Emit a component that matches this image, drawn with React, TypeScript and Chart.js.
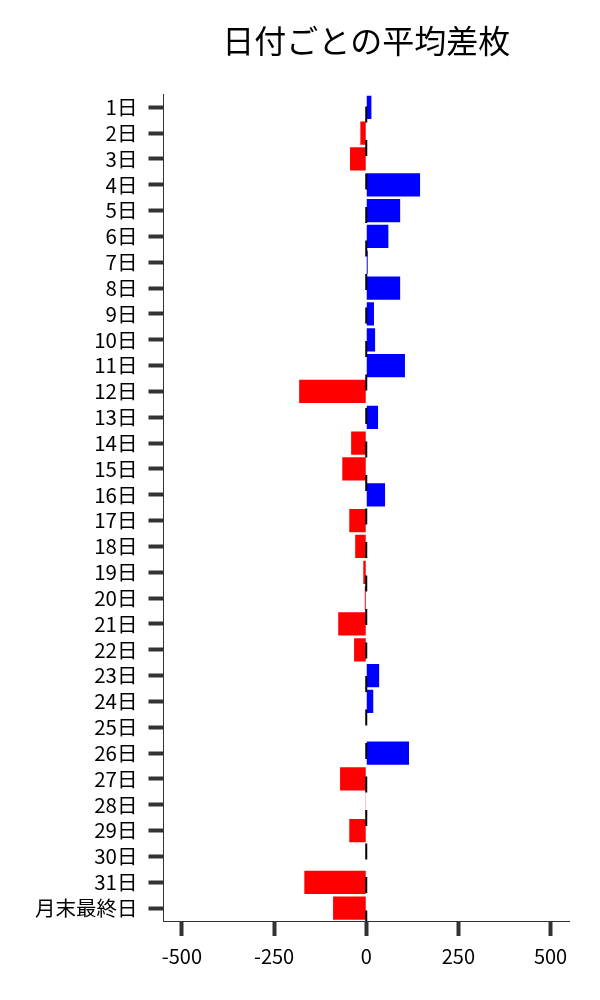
import React, { useEffect, useRef } from "react";
import { Chart, registerables } from "chart.js";

Chart.register(...registerables);

const categories = [
  "1日", "2日", "3日", "4日", "5日", "6日", "7日", "8日", "9日", "10日",
  "11日", "12日", "13日", "14日", "15日", "16日", "17日", "18日", "19日", "20日",
  "21日", "22日", "23日", "24日", "25日", "26日", "27日", "28日", "29日", "30日",
  "31日", "月末最終日",
];

const avgDiff = [
  14, -16, -44, 146, 92, 60, 4, 92, 21, 24,
  105, -182, 32, -41, -65, 51, -46, -30, -8, -4,
  -76, -33, 35, 19, 0, 116, -71, -2, -46, 0,
  -168, -90,
];

const xTicks = [-500, -250, 0, 250, 500];

const titleText = "日付ごとの平均差枚";

const FONT = "'Noto Sans CJK JP', 'Noto Sans', sans-serif";

const zeroLine = {
  id: "zeroLine",
  afterDatasetsDraw(chart: any) {
    const { ctx, chartArea, scales } = chart;
    const x = scales.x.getPixelForValue(0);
    ctx.save();
    ctx.strokeStyle = "#000";
    ctx.lineWidth = 2;
    ctx.setLineDash([16, 17.5]);
    ctx.lineDashOffset = 21.5;
    ctx.beginPath();
    ctx.moveTo(x, chartArea.top);
    ctx.lineTo(x, chartArea.bottom);
    ctx.stroke();
    ctx.restore();
  },
};

export default function App() {
  const ref = useRef<HTMLCanvasElement>(null);

  useEffect(() => {
    document.body.style.margin = "0";
    if (!ref.current) return;
    Chart.defaults.font.family = FONT;
    const chart = new Chart(ref.current, {
      type: "bar",
      data: {
        labels: categories,
        datasets: [
          {
            data: avgDiff,
            backgroundColor: avgDiff.map((v) => (v >= 0 ? "#0000ff" : "#ff0000")),
            borderWidth: 0,
            categoryPercentage: 0.9,
            barPercentage: 1,
          },
        ],
      },
      options: {
        indexAxis: "y",
        animation: false,
        responsive: true,
        maintainAspectRatio: false,
        layout: { padding: { left: 24, right: 31, top: 0, bottom: 24 } },
        plugins: {
          legend: { display: false },
          tooltip: { enabled: false },
          title: {
            display: true,
            text: titleText,
            fullSize: false,
            color: "#000",
            font: { family: FONT, size: 32, weight: "normal", lineHeight: 1.2 },
            padding: { top: 22, bottom: 34 },
          },
        },
        scales: {
          x: {
            type: "linear",
            min: -550,
            max: 550,
            afterBuildTicks: (scale: any) => {
              scale.ticks = xTicks.map((v) => ({ value: v }));
            },
            ticks: {
              color: "#000",
              font: { family: FONT, size: 20 },
              padding: 8,
              maxRotation: 0,
              callback: (v: any) => String(v),
            },
            grid: {
              drawOnChartArea: false,
              drawTicks: true,
              tickLength: 15,
              tickWidth: 4,
              tickColor: "#333",
            },
            border: { display: true, color: "#333", width: 1 },
          },
          y: {
            type: "category",
            offset: true,
            ticks: {
              color: "#000",
              font: { family: FONT, size: 20.5 },
              padding: 11,
              autoSkip: false,
            },
            grid: {
              offset: false,
              drawOnChartArea: false,
              drawTicks: true,
              tickLength: 15,
              tickWidth: 4,
              tickColor: "#333",
            },
            border: { display: true, color: "#333", width: 1 },
          },
        },
      },
      plugins: [zeroLine],
    });
    return () => chart.destroy();
  }, []);

  return (
    <div style={{ width: 600, height: 1000, position: "relative" }}>
      <canvas ref={ref} />
    </div>
  );
}
